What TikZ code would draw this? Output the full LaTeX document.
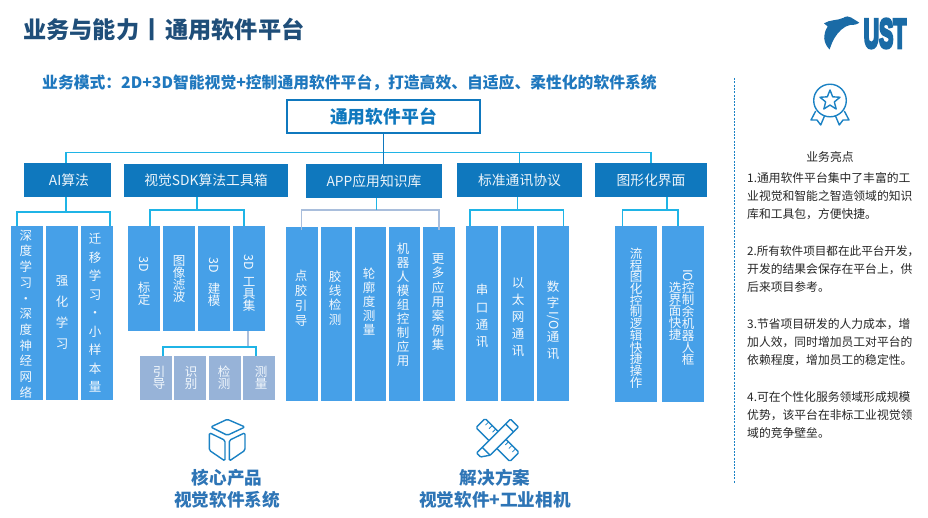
\documentclass[tikz,border=0pt]{standalone}
\usepackage{fontspec}
\usepackage{graphicx}
\usetikzlibrary{shapes.geometric,calc}
\setmainfont{Noto Sans CJK SC}
\newfontfamily\logofont[BoldFeatures={FakeBold=8}]{Liberation Sans}
\newcommand\fc{\char"FF0C\relax}
\newcommand\fl{\char"FF1A\relax}
\definecolor{titleblue}{HTML}{1F4E79}
\definecolor{subblue}{HTML}{1F78BE}
\definecolor{headblue}{HTML}{0F78BE}
\definecolor{leafblue}{HTML}{46A0E8}
\definecolor{subleaf}{HTML}{97B3D8}
\definecolor{cyanline}{HTML}{1FB4E6}
\definecolor{paleline}{HTML}{A9BEDC}
\definecolor{iconblue}{HTML}{1B82C4}
\definecolor{logoblue}{HTML}{1A6BA6}
\definecolor{btmblue}{HTML}{2E75B6}
\colorlet{leafc}{leafblue}
\newcommand\fsz[1]{\fontsize{#1}{#1}\selectfont}
\makeatletter
\newcommand\vchars[2]{\vbox{\baselineskip=#1pt\lineskiplimit=-100pt\lineskip=0pt\@tfor\vc:=#2\do{\hbox to 16pt{\hss\vc\hss}}}}
\makeatother
\newcommand\rotx[1]{\rotatebox[origin=c]{-90}{#1}}
\tikzset{
  leafbox/.style={rectangle,fill=leafc,inner sep=0pt,outer sep=0pt},
  headbox/.style={rectangle,fill=headblue,inner sep=0pt,outer sep=0pt,text=white!92!headblue,font=\fsz{13.8}},
  vtext/.style={inner sep=0pt,text=white!93!leafblue,font=\fsz{12.5}},
  conn/.style={draw=cyanline,line width=1.2pt},
  paleconn/.style={draw=paleline,line width=1.2pt},
  icon/.style={draw=iconblue,line width=1.4pt,line join=round},
  btmtext/.style={inner sep=0pt,text=btmblue,font=\fsz{17.6}\bfseries,align=center},
}
\newcommand\leaf[9]{%
  \node[leafbox,minimum width={(#3-#2)*1pt},minimum height={(#5-#4)*1pt}] (#1) at ({(#2+#3)/2},{(#4+#5)/2}) {};
  \node[vtext] (#1t) at (#6,#7) {\vchars{#8}{#9}};
}
\newcommand\head[6]{%
  \node[headbox,minimum width={(#3-#2)*1pt},minimum height={(#5-#4)*1pt}] (#1) at ({(#2+#3)/2},{(#4+#5)/2}) {#6};
}
\begin{document}
\begin{tikzpicture}[x=1pt,y=-1pt]
\useasboundingbox (0,0) rectangle (928,517);
\fill[white] (0,0) rectangle (928,517);

% titles
\node[anchor=west,inner sep=0pt,text=titleblue,font=\fsz{23.2}\bfseries] (title) at (23,29) {业务与能力\hspace{1pt}丨\hspace{2pt}通用软件平台};
\node[anchor=west,inner sep=0pt,text=subblue,font=\fsz{15.8}\bfseries] (subtitle) at (42,83) {业务模式\fl 2D+3D智能视觉+控制通用软件平台\fc 打造高效、自适应、柔性化的软件系统};

% logo
\fill[logoblue] (824,23.3) .. controls (830,19.5) and (838,20.5) .. (843,18)
  .. controls (846,16) and (849,16) .. (851,17.5)
  .. controls (854,19.5) and (857,21) .. (859.3,22.7)
  .. controls (856,25) and (853,25) .. (850,25)
  .. controls (844,26) and (838,32) .. (834.5,38)
  .. controls (832,42) and (831,46) .. (829.5,49.5)
  .. controls (825,45) and (823.5,39) .. (824.5,35)
  .. controls (825,31) and (826.5,28) .. (827.7,26.5)
  .. controls (826.5,25.5) and (825,24.5) .. (824,23.3) -- cycle;
\node[anchor=center,inner sep=0pt,text=logoblue,font=\logofont\fsz{41}\bfseries,xscale=0.52] (logo) at (885,33.5) {UST};

% root
\node[rectangle,draw=headblue,line width=1.2pt,fill=white,inner sep=0pt,minimum width=193pt,minimum height=33pt,text=headblue,font=\fsz{17.8}\bfseries] (root) at (383.5,116.5) {通用软件平台};

% level 1
\head{ai}{24}{111}{163}{197}{\hspace{3pt}AI算法}
\head{sdk}{124}{288}{164}{197}{视觉SDK算法工具箱}
\head{app}{306}{442}{164}{198}{APP应用知识库}
\head{std}{457}{582}{163}{197}{标准通讯协议}
\head{gui}{595}{707}{163}{197}{图形化界面}

% leaves: AI
\leaf{a1}{11}{43}{226}{400}{26}{314}{15.7}{深度学习·深度神经网络}
\leaf{a2}{46}{78}{226}{400}{62}{313}{21}{强化学习}
\leaf{a3}{81}{113}{226}{400}{95}{313}{18.5}{迁移学习·小样本量}
% leaves: SDK
\leaf{s1}{128}{160}{226}{331}{144}{281}{12}{{\rotx{3D}}{}标定}
\leaf{s2}{163}{195}{226}{331}{179}{279}{11.7}{图像滤波}
\leaf{s3}{198}{230}{226}{331}{214}{282}{12}{{\rotx{3D}}{}建模}
\leaf{s4}{233}{265}{226}{331}{249}{283}{12}{{\raisebox{7pt}{\rotx{3D}}}工具集}
% sub leaves
\colorlet{leafc}{subleaf}
\leaf{t1}{140}{172}{356}{400}{159}{378}{12}{引导}
\leaf{t2}{174}{206}{356}{400}{191}{378}{12}{识别}
\leaf{t3}{209}{241}{356}{400}{224}{378}{12}{检测}
\leaf{t4}{243}{275}{356}{400}{261}{378}{12}{测量}
\colorlet{leafc}{leafblue}
% leaves: APP
\leaf{p1}{286}{318}{227}{401}{301}{298}{15}{点胶引导}
\leaf{p2}{321}{352}{227}{401}{335}{298}{14.2}{胶线检测}
\leaf{p3}{355}{386}{227}{401}{369}{302}{14}{轮廓度测量}
\leaf{p4}{389}{420}{227}{401}{403}{305}{14}{机器人模组控制应用}
\leaf{p5}{423}{455}{227}{401}{438}{302}{14.3}{更多应用案例集}
% leaves: comm
\leaf{c1}{466}{498}{226}{401}{482}{316}{17.3}{串口通讯}
\leaf{c2}{501}{534}{226}{401}{518}{317}{17}{以太网通讯}
\leaf{c3}{537}{569}{226}{401}{553}{320}{16.8}{数字{\rotx{I/O}}通讯}
% leaves: GUI
\leaf{g1}{615}{657}{226}{402}{636}{318}{11.7}{流程图化控制逻辑快捷操作}
\leaf{g2}{662}{704}{226}{402}{688}{317}{12}{{\rotx{IO}}控制余机器人框}
\node[vtext] (g2b) at (675,311) {\vchars{11.7}{选界面快捷}};

% connectors: root bus
\coordinate (rootbus) at ($(root.south)+(0,19)$);
\draw[conn] ([xshift=-1.5pt]ai.north) |- (rootbus) -| (gui.north);
\draw[conn] (std.north) -- (std.north |- rootbus);
\draw[draw=headblue,line width=1.2pt] (root.south) -- ($(root.south |- app.north)$);
% AI
\draw[conn] ([xshift=-1.5pt]ai.south) -- ++(0,15) coordinate (aibus);
\draw[conn] ([xshift=-10pt]a1.north) |- (aibus) -| ([xshift=13pt]a3.north);
% SDK
\draw[conn] ([xshift=-9pt]sdk.south) -- ++(0,13) coordinate (sdkbus);
\draw[conn] ([xshift=6pt]s1.north) |- (sdkbus) -| ([xshift=-5pt]s4.north);
% sub
\draw[paleconn] ([xshift=-1pt]s4.south) -- ++(0,16) coordinate (subbus);
\draw[conn] ([xshift=7pt]t1.north) |- (subbus) -| ([xshift=-3pt]t4.north);
% APP
\coordinate (appstem) at ([xshift=2.7pt,yshift=-12pt]app.south);
\draw[paleconn] ([xshift=-0.5pt,yshift=-3pt]p1.north) |- (appstem) -| ([yshift=-3pt]p5.north);
\draw[conn] ([xshift=2.7pt]app.south) -- (appstem);
% comm
\draw[conn] ([xshift=-1.8pt]std.south) -- ++(0,13) coordinate (stdbus);
\draw[conn] ([xshift=-12pt]c1.north) |- (stdbus) -| ([xshift=10.7pt]c3.north);
% GUI
\draw[conn] ([xshift=16pt]gui.south) -- ++(0,13) coordinate (guibus);
\draw[conn] ([xshift=-13.3pt]g1.north) |- (guibus) -| ([xshift=-5pt]g2.north);

% box icon
\begin{scope}[icon,rounded corners=1.5pt]
\draw (227.3,419.3) -- (210.7,427) -- (227.3,435.3) -- (245,427) -- cycle;
\draw (209.3,432.7) -- (225,440.3) -- (225,461) -- (209.3,450.3) -- cycle;
\draw (229.3,440.3) -- (245,432.7) -- (245,450.3) -- (229.3,461) -- cycle;
\end{scope}

% pencil and ruler icon
\begin{scope}[icon,shift={(497.5,440)},rotate=-45,fill=white]
\draw[fill=white,rounded corners=1.5pt] (-24,-6.5) rectangle (24,6.5);
\foreach \t in {-19,-14,-9,9,14,19} \draw[line width=0.8pt] (\t,-6.5) -- (\t,-2);
\end{scope}
\begin{scope}[icon,shift={(497.5,440)},rotate=45]
\draw[fill=white,rounded corners=0.8pt] (-24,-5.5) -- (19,-5.5) -- (24,-5.5) -- (24,5.5) -- (-16,5.5) -- (-24,0) -- cycle;
\draw (17,-5.5) -- (17,5.5);
\draw (-16,-5.5) -- (-16,5.5);
\end{scope}

% bottom text
\node[btmtext] (core) at (227,488.5) {核心产品\\[4pt]视觉软件系统};
\node[btmtext] (sol) at (495,488.5) {解决方案\\[4pt]视觉软件+工业相机};

% right panel
\coordinate (dtop) at (734,78);
\coordinate (dbot) at (734,483);
\draw[draw=iconblue,line width=0.9pt,dash pattern=on 2pt off 1.3pt] (dtop) -- (dbot);

% medal icon
\draw[icon] (830,100.5) circle (16.3);
\node[star,star points=5,star point ratio=2.3,draw=iconblue,line width=1.4pt,line join=round,inner sep=0pt,minimum size=21pt] (medalstar) at (830,100.5) {};
\draw[icon] (815.7,111) -- (811,120) -- (817,120) -- (820.7,125) -- (824.5,116);
\draw[icon] (844.3,111) -- (849,120) -- (843,120) -- (839.3,125) -- (835.5,116);

\node[inner sep=0pt,text=black!85,font=\fsz{11.8}] (hl) at (830,157) {业务亮点};
\node[anchor=north west,inner sep=0pt,text=black!85,font=\fsz{11.8},align=left] (points) at (747,172.2) {%
1.通用软件平台集中了丰富的工\\[6.45pt]
业视觉和智能之智造领域的知识\\[6.45pt]
库和工具包\fc 方便快捷。\\[6.45pt]
\\[6.45pt]
{\fontsize{11.6}{11.8}\selectfont 2.所有软件项目都在此平台开发\fc}\\[6.45pt]
开发的结果会保存在平台上\fc 供\\[6.45pt]
后来项目参考。\\[6.45pt]
\\[6.45pt]
3.节省项目研发的人力成本\fc 增\\[6.45pt]
加人效\fc 同时增加员工对平台的\\[6.45pt]
依赖程度\fc 增加员工的稳定性。\\[6.45pt]
\\[6.45pt]
4.可在个性化服务领域形成规模\\[6.45pt]
优势\fc 该平台在非标工业视觉领\\[6.45pt]
域的竞争壁垒。};
\end{tikzpicture}
\end{document}
